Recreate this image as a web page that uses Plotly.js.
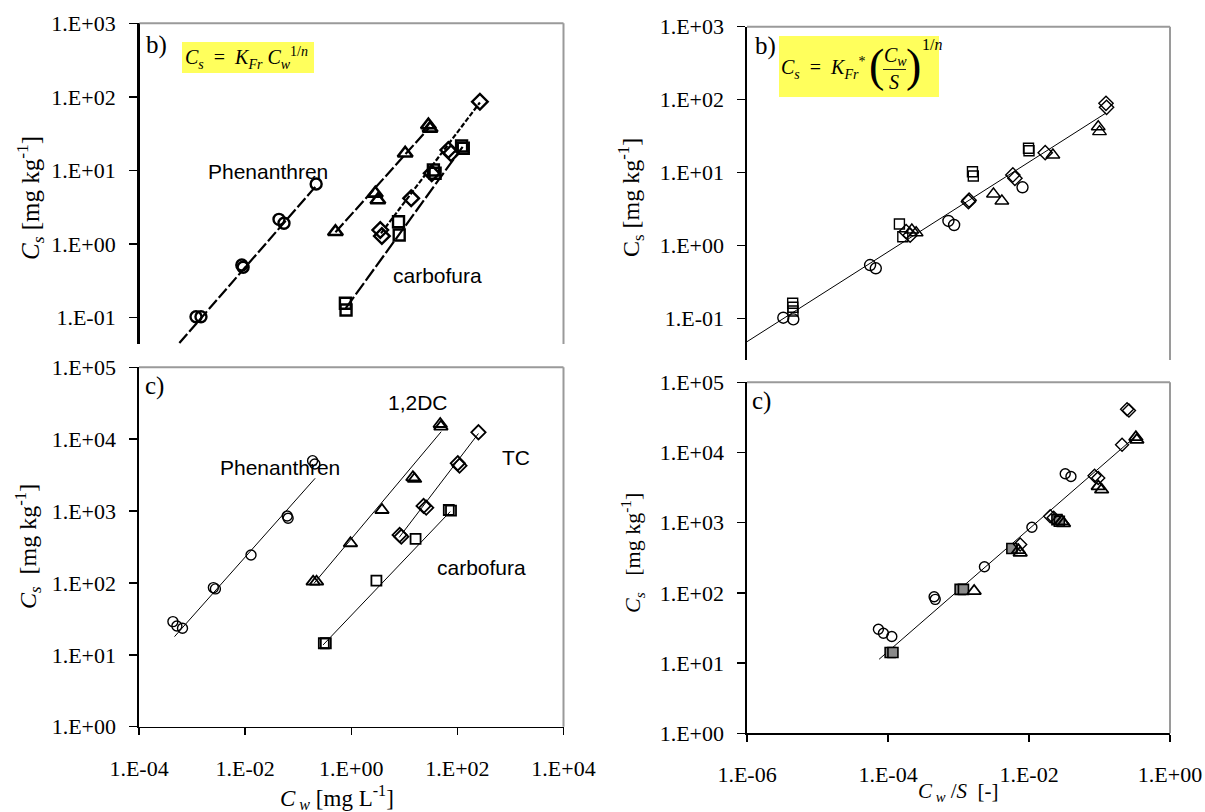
<!DOCTYPE html>
<html>
<head>
<meta charset="utf-8">
<script src="https://cdn.plot.ly/plotly-3.0.1.min.js"></script>
<style>html,body{margin:0;padding:0;background:#fff;}#chart{width:1205px;height:812px;}</style>
</head>
<body>
<div id="chart"></div>
<script>
// ---------------- DATA ----------------
// Panel b) left: Cs vs Cw
const bL_phen_x = [0.001164, 0.001445, 0.008511, 0.009016, 0.04285, 0.05321, 0.2153];
const bL_phen_y = [0.1033, 0.1033, 0.52, 0.484, 2.17, 1.92, 6.56];
const bL_phen_fitx = [0.000565, 0.2153];
const bL_phen_fity = [0.0453, 6.2];
const bL_dc_x = [0.4977, 2.812, 3.148, 10.30, 28.25, 30.41];
const bL_dc_y = [1.472, 4.898, 3.981, 17.14, 41.5, 37.4];
const bL_dc_fitx = [0.4977, 30.0];
const bL_dc_fity = [1.45, 39.0];
const bL_tc_x = [3.491, 3.741, 13.37, 32.58, 67.14, 75.51, 264.8];
const bL_tc_y = [1.556, 1.288, 4.188, 9.162, 19.01, 17.14, 86.1];
const bL_tc_fitx = [3.6, 265];
const bL_tc_fity = [1.4, 84];
const bL_carb_x = [0.7674, 0.7889, 7.709, 7.943, 35.08, 37.76, 119.4, 128.5];
const bL_carb_y = [0.157, 0.1274, 2.014, 1.33, 10.16, 9.16, 21.53, 20.04];
const bL_carb_fitx = [0.78, 125];
const bL_carb_fity = [0.135, 21];

// Panel b) right: Cs vs Cw/S
const bR_phen_x = [3.273e-6, 4.539e-6, 5.572e-5, 6.714e-5, 7.194e-4, 8.670e-4, 8.091e-3];
const bR_phen_y = [0.1019, 0.0968, 0.5383, 0.4853, 2.163, 1.905, 6.266];
const bR_carb_x = [4.446e-6, 4.467e-6, 4.487e-6, 1.452e-4, 1.622e-4, 1.578e-3, 1.622e-3, 9.840e-3, 1.0e-2];
const bR_carb_y = [0.1607, 0.1416, 0.1259, 1.963, 1.315, 10.26, 8.954, 21.48, 19.91];
const bR_dc_x = [2.178e-4, 2.506e-4, 3.133e-3, 4.121e-3, 2.183e-2, 9.594e-2, 0.1];
const bR_dc_y = [1.626, 1.493, 5.070, 4.064, 17.38, 42.46, 36.31];
const bR_tc_x = [1.807e-4, 2.061e-4, 1.384e-3, 1.413e-3, 5.902e-3, 6.31e-3, 1.698e-2, 0.1236, 0.1259];
const bR_tc_y = [1.542, 1.380, 3.981, 4.169, 9.247, 8.318, 18.71, 88.92, 78.34];
const bR_fitx = [1e-6, 0.1236];
const bR_fity = [0.04775, 65.46];

// Panel c) left: Cs vs Cw
const cL_phen_x = [4.355e-4, 5.176e-4, 6.607e-4, 2.523e-3, 2.754e-3, 1.291e-2, 6.209e-2, 6.457e-2, 0.1866, 0.2061];
const cL_phen_y = [28.97, 25.23, 23.44, 86.1, 82.6, 244.9, 855.1, 794.3, 5023, 4519];
const cL_phen_fitx = [4.667e-4, 0.2089];
const cL_phen_fity = [17.91, 2858];
const cL_dc_x = [0.1914, 0.2218, 0.9661, 3.793, 14.52, 15.63, 47.53, 48.98];
const cL_dc_y = [104.2, 104.2, 356.5, 1035, 2951, 2799, 16255, 14928];
const cL_dc_fitx = [0.1995, 49.55];
const cL_dc_fity = [99.08, 12706];
const cL_tc_x = [8.166, 8.79, 23.07, 25.88, 101.9, 109.6, 249.5];
const cL_tc_y = [465.6, 440.6, 1178, 1114, 4624, 4276, 12474];
const cL_tc_fitx = [8.0, 249.5];
const cL_tc_fity = [430, 12000];
const cL_carb_x = [0.3041, 0.3319, 2.979, 16.29, 68.87, 75.86];
const cL_carb_y = [14.49, 14.49, 107.6, 409.3, 1035, 1014];
const cL_carb_fitx = [0.2951, 73.28];
const cL_carb_fity = [13.74, 981.7];

// Panel c) right: Cs vs Cw/S
const cR_phen_x = [7.311e-5, 8.610e-5, 1.132e-4, 4.508e-4, 4.677e-4, 2.333e-3, 1.099e-2, 3.266e-2, 3.936e-2];
const cR_phen_y = [30.34, 26.61, 23.88, 88.31, 80.91, 235.5, 861.0, 4977, 4560];
const cR_carb_x = [1.072e-4, 1.175e-4, 1.054e-3, 1.175e-3, 5.715e-3, 2.489e-2, 2.692e-2];
const cR_carb_y = [14.16, 14.16, 112.2, 112.2, 428.5, 1107, 1047];
const cR_dc_x = [1.667e-3, 7.499e-3, 7.096e-3, 2.931e-2, 3.090e-2, 9.594e-2, 0.1072, 0.3281, 0.3388];
const cR_dc_y = [106.2, 372.4, 405.5, 1047, 977.2, 3289, 2951, 16558, 15136];
const cR_tc_x = [7.499e-3, 2.0e-2, 2.239e-2, 8.511e-2, 9.594e-2, 0.2089, 0.246, 0.2618];
const cR_tc_y = [488.7, 1233, 1175, 4667, 4325, 12853, 41305, 39537];
const cR_fitx = [7.482e-5, 0.3162];
const cR_fity = [11.35, 16558];

// Tick labels
const xTickValsL = [1e-4, 1e-2, 1, 1e2, 1e4];
const xTickTextL = ['1.E-04', '1.E-02', '1.E+00', '1.E+02', '1.E+04'];
const xTickValsR = [1e-6, 1e-4, 1e-2, 1];
const xTickTextR = ['1.E-06', '1.E-04', '1.E-02', '1.E+00'];
const yTickValsB = [0.1, 1, 10, 100, 1000];
const yTickTextB = ['1.E-01', '1.E+00', '1.E+01', '1.E+02', '1.E+03'];
const yTickValsC = [1, 10, 100, 1000, 1e4, 1e5];
const yTickTextC = ['1.E+00', '1.E+01', '1.E+02', '1.E+03', '1.E+04', '1.E+05'];

// ---------------- LAYOUT HELPERS ----------------
const W = 1205, H = 812;
const px = v => v / W;
const py = v => 1 - v / H;
const dX = (a, b) => [a / W, b / W];
const dY = (top, bottom) => [1 - bottom / H, 1 - top / H];
const SERIF = 'Liberation Serif';
const SANS = 'Liberation Sans';

function pts(x, y, xa, ya, sym, opts) {
  opts = opts || {};
  return {
    x: x, y: y, xaxis: xa, yaxis: ya, type: 'scatter', mode: 'markers', showlegend: false,
    hoverinfo: 'skip',
    marker: {
      symbol: sym, size: opts.size || 11,
      color: opts.fill || 'rgba(255,255,255,0)',
      line: {color: '#000', width: opts.lw || 1.4}
    }
  };
}
function fit(x, y, xa, ya, opts) {
  opts = opts || {};
  return {
    x: x, y: y, xaxis: xa, yaxis: ya, type: 'scatter', mode: 'lines', showlegend: false,
    hoverinfo: 'skip',
    line: {color: '#000', width: opts.w || 1, dash: opts.dash || 'solid'}
  };
}

const data = [
  // b) left
  fit(bL_phen_fitx, bL_phen_fity, 'x', 'y', {w: 2.2, dash: '12px,3px'}),
  fit(bL_dc_fitx, bL_dc_fity, 'x', 'y', {w: 2.2, dash: '12px,3px'}),
  fit(bL_tc_fitx, bL_tc_fity, 'x', 'y', {w: 2.2, dash: '5px,2px'}),
  fit(bL_carb_fitx, bL_carb_fity, 'x', 'y', {w: 2.2, dash: '14px,3px'}),
  pts(bL_phen_x, bL_phen_y, 'x', 'y', 'circle', {lw: 2.4, size: 11}),
  pts(bL_dc_x, bL_dc_y, 'x', 'y', 'triangle-up', {lw: 2.6, size: 13}),
  pts(bL_tc_x, bL_tc_y, 'x', 'y', 'diamond', {lw: 2.4, size: 12}),
  pts(bL_carb_x, bL_carb_y, 'x', 'y', 'square', {lw: 2.4, size: 11}),
  // b) right
  fit(bR_fitx, bR_fity, 'x2', 'y2', {w: 1}),
  pts(bR_phen_x, bR_phen_y, 'x2', 'y2', 'circle', {size: 11}),
  pts(bR_carb_x, bR_carb_y, 'x2', 'y2', 'square', {size: 10}),
  pts(bR_dc_x, bR_dc_y, 'x2', 'y2', 'triangle-up', {size: 12}),
  pts(bR_tc_x, bR_tc_y, 'x2', 'y2', 'diamond', {size: 11}),
  // c) left
  fit(cL_phen_fitx, cL_phen_fity, 'x3', 'y3', {w: 1}),
  fit(cL_dc_fitx, cL_dc_fity, 'x3', 'y3', {w: 1}),
  fit(cL_tc_fitx, cL_tc_fity, 'x3', 'y3', {w: 1}),
  fit(cL_carb_fitx, cL_carb_fity, 'x3', 'y3', {w: 1}),
  pts(cL_phen_x, cL_phen_y, 'x3', 'y3', 'circle', {size: 10}),
  pts(cL_dc_x, cL_dc_y, 'x3', 'y3', 'triangle-up', {size: 12, lw: 1.8}),
  pts(cL_tc_x, cL_tc_y, 'x3', 'y3', 'diamond', {size: 11, lw: 1.8}),
  pts(cL_carb_x, cL_carb_y, 'x3', 'y3', 'square', {size: 10, lw: 1.8}),
  // c) right
  fit(cR_fitx, cR_fity, 'x4', 'y4', {w: 1}),
  pts(cR_phen_x, cR_phen_y, 'x4', 'y4', 'circle', {size: 10}),
  pts(cR_carb_x, cR_carb_y, 'x4', 'y4', 'square', {size: 10, fill: '#8a8a8a', lw: 1.6}),
  pts(cR_dc_x, cR_dc_y, 'x4', 'y4', 'triangle-up', {size: 12, lw: 1.8}),
  pts(cR_tc_x, cR_tc_y, 'x4', 'y4', 'diamond', {size: 10})
];

function xAx(domain, range, anchor, vals, text, show) {
  return {
    type: 'log', domain: domain, range: range, anchor: anchor,
    showgrid: false, zeroline: false, fixedrange: true,
    showline: show, linecolor: '#000', linewidth: 1.6,
    ticks: show ? 'outside' : '', ticklen: 7, tickwidth: 1.4, tickcolor: '#000',
    tickmode: 'array', tickvals: vals, ticktext: text, showticklabels: show,
    tickfont: {family: SERIF, size: 22, color: '#000'}, ticklabelstandoff: 14
  };
}
function yAx(domain, range, anchor, vals, text, lw) {
  return {
    type: 'log', domain: domain, range: range, anchor: anchor,
    showgrid: false, zeroline: false, fixedrange: true,
    showline: true, linecolor: '#000', linewidth: lw || 1.6,
    ticks: 'outside', ticklen: 8, tickwidth: 1.4, tickcolor: '#000',
    tickmode: 'array', tickvals: vals, ticktext: text,
    tickfont: {family: SERIF, size: 22, color: '#000'}, ticklabelstandoff: 9
  };
}

function border(xr, yr, top) {
  const s = [];
  if (top) s.push({type: 'line', xref: xr + ' domain', yref: yr + ' domain', x0: 0, x1: 1, y0: 1, y1: 1,
    line: {color: '#9a9a9a', width: 2}});
  s.push({type: 'line', xref: xr + ' domain', yref: yr + ' domain', x0: 1, x1: 1, y0: 0, y1: 1,
    line: {color: '#9a9a9a', width: 2}});
  return s;
}

const shapes = [].concat(
  border('x', 'y', true), border('x2', 'y2', true), border('x3', 'y3', true), border('x4', 'y4', true),
  [
    {type: 'rect', xref: 'paper', yref: 'paper', x0: px(182), x1: px(314), y0: py(73), y1: py(42),
      fillcolor: '#ffff5c', line: {width: 0}, layer: 'below'},
    {type: 'rect', xref: 'paper', yref: 'paper', x0: px(779), x1: px(939), y0: py(97), y1: py(36),
      fillcolor: '#ffff5c', line: {width: 0}, layer: 'below'},
    {type: 'line', xref: 'paper', yref: 'paper', x0: px(883), x1: px(906), y0: py(69.5), y1: py(69.5),
      line: {color: '#222', width: 1}}
  ]
);

function ann(text, x, y, o) {
  o = o || {};
  return {
    text: text, xref: 'paper', yref: 'paper', x: px(x), y: py(y), showarrow: false,
    xanchor: o.xa || 'center', yanchor: o.ya || 'middle', textangle: o.angle || 0,
    borderpad: 0,
    font: {family: o.family || SERIF, size: o.size || 22, color: o.color || '#000'}
  };
}

const annotations = [
  // panel letters
  ann('b)', 145, 45, {xa: 'left', size: 25}),
  ann('b)', 754, 46, {xa: 'left', size: 25}),
  ann('c)', 144, 386, {xa: 'left', size: 25}),
  ann('c)', 751, 401, {xa: 'left', size: 25}),
  // series labels
  ann('Phenanthren', 268, 172, {family: SANS, size: 21}),
  ann('carbofura', 437, 275, {family: SANS, size: 21}),
  ann('Phenanthren', 280, 468, {family: SANS, size: 21}),
  ann('1,2DC', 418, 402, {family: SANS, size: 21}),
  ann('TC', 516, 457, {family: SANS, size: 21}),
  ann('carbofura', 481, 567, {family: SANS, size: 21}),
  // formula left
  ann('<i>C<sub>s</sub></i>  =  <i>K<sub>Fr</sub> C<sub>w</sub></i><sup>1/<i>n</i></sup>', 246, 58, {size: 20}),
  // formula right
  ann('<i>C<sub>s</sub></i>  =  <i>K<sub>Fr</sub></i><sup>*</sup>', 866, 68, {xa: 'right', size: 20}),
  ann('(', 876, 66, {size: 46}),
  ann('<i>C<sub>w</sub></i>', 895, 56, {size: 20}),
  ann('<i>S</i>', 894, 82, {size: 20}),
  ann(')', 913, 66, {size: 46}),
  ann('1/<i>n</i>', 921, 45, {size: 16, xa: 'left'}),
  // axis titles
  ann('<i>C<sub>s</sub></i> [mg kg<sup>-1</sup>]', 30, 198, {angle: -90, size: 25}),
  ann('C<sub>s</sub> [mg kg<sup>-1</sup>]', 631, 198, {angle: -90, size: 24}),
  ann('<i>C<sub>s</sub></i>  [mg kg<sup>-1</sup>]', 28, 547, {angle: -90, size: 24}),
  ann('<i>C<sub>s</sub></i>   [mg kg<sup>-1</sup>]', 632, 553, {angle: -90, size: 22}),
  ann('<i>C<sub> w</sub></i> [mg L<sup>-1</sup>]', 337, 797, {size: 23}),
  ann('<i>C<sub> w</sub></i> /<i>S</i>  [-]', 959, 792, {size: 21})
];

const layout = {
  width: W, height: H,
  margin: {l: 0, r: 0, t: 0, b: 0},
  paper_bgcolor: '#fff', plot_bgcolor: 'rgba(0,0,0,0)',
  showlegend: false,
  font: {family: SERIF, size: 22, color: '#000'},
  xaxis: xAx(dX(139.5, 563.5), [-4, 4], 'y', xTickValsL, xTickTextL, false),
  yaxis: yAx(dY(23.3, 344), [-1.357, 3], 'x', yTickValsB, yTickTextB, 2.4),
  xaxis2: xAx(dX(747, 1170), [-6, 0], 'y2', xTickValsR, xTickTextR, false),
  yaxis2: yAx(dY(26.7, 360), [-1.572, 3], 'x2', yTickValsB, yTickTextB, 1.6),
  xaxis3: xAx(dX(139, 563.5), [-4, 4], 'y3', xTickValsL, xTickTextL, true),
  yaxis3: yAx(dY(367.3, 726.7), [0, 5], 'x3', yTickValsC, yTickTextC, 1.6),
  xaxis4: xAx(dX(747, 1170), [-6, 0], 'y4', xTickValsR, xTickTextR, true),
  yaxis4: yAx(dY(382.3, 733.3), [0, 5], 'x4', yTickValsC, yTickTextC, 1.6),
  shapes: shapes,
  annotations: annotations
};

Plotly.newPlot('chart', data, layout, {displayModeBar: false, staticPlot: true});
</script>
</body>
</html>
